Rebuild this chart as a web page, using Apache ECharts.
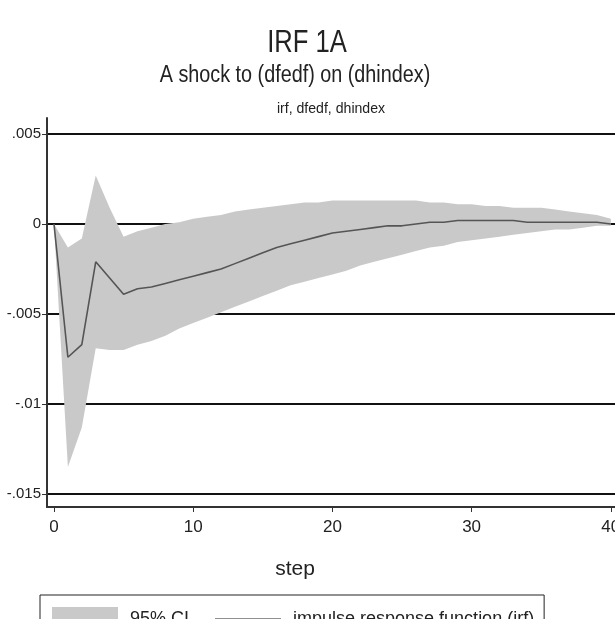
<!DOCTYPE html>
<html>
<head>
<meta charset="utf-8">
<script src="https://cdn.jsdelivr.net/npm/echarts@6/dist/echarts.min.js"></script>
<style>
html, body { margin: 0; padding: 0; background: #fff; }
#chart { width: 615px; height: 619px; }
</style>
</head>
<body>
<div id="chart"></div>
<script>
// IRF 1A - shock to dfedf on dhindex
var steps = [];
for (var s = 0; s <= 40; s++) steps.push(s);

var irf = [0, -0.0074, -0.0067, -0.0021, -0.0030, -0.0039, -0.0036, -0.0035, -0.0033, -0.0031,
    -0.0029, -0.0027, -0.0025, -0.0022, -0.0019, -0.0016, -0.0013, -0.0011, -0.0009, -0.0007,
    -0.0005, -0.0004, -0.0003, -0.0002, -0.0001, -0.0001, 0.0000, 0.0001, 0.0001, 0.0002,
    0.0002, 0.0002, 0.0002, 0.0002, 0.0001, 0.0001, 0.0001, 0.0001, 0.0001, 0.0001, 0.0000];

var ciUpper = [0, -0.0013, -0.0008, 0.0027, 0.0009, -0.0007, -0.0004, -0.0002, 0.0000, 0.0001,
    0.0003, 0.0004, 0.0005, 0.0007, 0.0008, 0.0009, 0.0010, 0.0011, 0.0012, 0.0012,
    0.0013, 0.0013, 0.0013, 0.0013, 0.0013, 0.0013, 0.0013, 0.0012, 0.0012, 0.0011,
    0.0011, 0.0010, 0.0010, 0.0009, 0.0009, 0.0009, 0.0008, 0.0007, 0.0006, 0.0005, 0.0003];

var ciLower = [0, -0.0135, -0.0113, -0.0069, -0.0070, -0.0070, -0.0067, -0.0065, -0.0062, -0.0058,
    -0.0055, -0.0052, -0.0049, -0.0046, -0.0043, -0.0040, -0.0037, -0.0034, -0.0032, -0.0030,
    -0.0028, -0.0026, -0.0023, -0.0021, -0.0019, -0.0017, -0.0015, -0.0013, -0.0012, -0.0010,
    -0.0009, -0.0008, -0.0007, -0.0006, -0.0005, -0.0004, -0.0003, -0.0003, -0.0002, -0.0001, -0.0001];

var xTicks = [0, 10, 20, 30, 40];
var yTicks = [0.005, 0, -0.005, -0.01, -0.015];

var font = '"Liberation Sans", Arial, sans-serif';
var bandColor = '#c9c9c9';

var pair = function (arr) {
    return steps.map(function (x, i) { return [x, arr[i]]; });
};

var fmtY = function (v) {
    if (Math.abs(v) < 1e-12) return '0';
    return String(+v.toFixed(4)).replace('0.', '.');
};

// CI band: one polygon, upper edge then lower edge back
var renderBand = function (params, api) {
    if (params.dataIndex !== 0) return null;
    var top = steps.map(function (x, i) { return api.coord([x, ciUpper[i]]); });
    var bot = steps.map(function (x, i) { return api.coord([x, ciLower[i]]); }).reverse();
    return {
        type: 'polygon',
        shape: { points: top.concat(bot) },
        style: { fill: bandColor }
    };
};

var chartDom = document.getElementById('chart');
var myChart = echarts.init(chartDom);
var option = {
    animation: false,
    backgroundColor: '#fff',
    graphic: [{
        type: 'text',
        x: 307, y: 43,
        scaleX: 0.8,
        style: { text: 'IRF 1A', fontFamily: font, fontSize: 32, fill: '#222', align: 'center', verticalAlign: 'middle' }
    }, {
        type: 'text',
        x: 295, y: 76,
        scaleX: 0.86,
        style: { text: 'A shock to (dfedf) on (dhindex)', fontFamily: font, fontSize: 23, fill: '#222', align: 'center', verticalAlign: 'middle' }
    }, {
        type: 'text',
        x: 331, y: 109,
        scaleX: 0.94,
        style: { text: 'irf, dfedf, dhindex', fontFamily: font, fontSize: 15, fill: '#222', align: 'center', verticalAlign: 'middle' }
    }],
    grid: {
        left: 47,
        right: 0,
        top: 118,
        bottom: 112,
        outerBoundsMode: 'none'
    },
    xAxis: {
        type: 'value',
        min: -0.5,
        max: 40.3,
        name: 'step',
        nameLocation: 'middle',
        nameGap: 52,
        nameTextStyle: { fontFamily: font, fontSize: 21, color: '#222', padding: [0, 72, 0, 0] },
        axisLine: { show: true, onZero: false, lineStyle: { color: '#333', width: 2 } },
        axisTick: { show: true, customValues: xTicks, length: 5, lineStyle: { color: '#333' } },
        axisLabel: {
            customValues: xTicks,
            margin: 12,
            fontFamily: font, fontSize: 17, color: '#222'
        },
        splitLine: { show: false }
    },
    yAxis: {
        type: 'value',
        min: -0.01572,
        max: 0.00589,
        axisLine: { show: true, onZero: false, lineStyle: { color: '#333', width: 2 } },
        axisTick: { show: true, customValues: yTicks, length: 5, lineStyle: { color: '#333' } },
        axisLabel: {
            customValues: yTicks,
            formatter: fmtY,
            margin: 6,
            fontFamily: font, fontSize: 15, color: '#222'
        },
        splitLine: { show: true, lineStyle: { color: '#111', width: 2 } }
    },
    legend: {
        left: 40,
        top: 595,
        orient: 'horizontal',
        padding: [12, 10, 14, 12],
        borderColor: '#222',
        borderWidth: 1,
        itemWidth: 66,
        itemHeight: 24,
        itemGap: 26,
        textStyle: { fontFamily: font, fontSize: 18, color: '#222', padding: [0, 0, 0, 7] },
        data: [{
            name: '95% CI',
            icon: 'rect',
            itemStyle: { color: bandColor }
        }, {
            name: 'impulse response function (irf)',
            icon: 'path://M0 0H100V1.6H0Z',
            itemStyle: { color: '#222' }
        }]
    },
    series: [{
        name: '95% CI',
        type: 'custom',
        renderItem: renderBand,
        data: steps.map(function (x, i) { return [x, ciLower[i], ciUpper[i]]; }),
        encode: { x: 0, y: [1, 2] },
        itemStyle: { color: bandColor },
        silent: true,
        clip: true,
        z: 2
    }, {
        name: 'impulse response function (irf)',
        type: 'line',
        data: pair(irf),
        symbol: 'none',
        itemStyle: { color: '#555' },
        lineStyle: { color: '#555', width: 1.6 },
        z: 3
    }]
};
myChart.setOption(option);
</script>
</body>
</html>
